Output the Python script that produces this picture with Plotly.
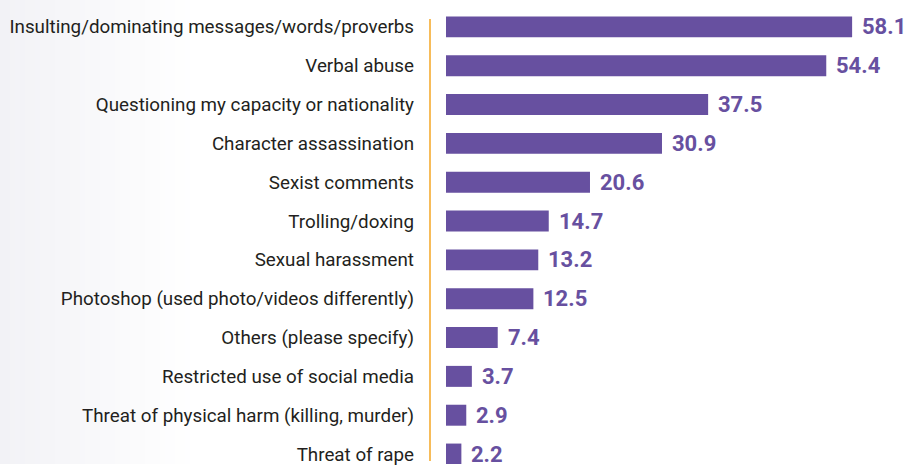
import plotly.graph_objects as go

categories = [
    "Insulting/dominating messages/words/proverbs",
    "Verbal abuse",
    "Questioning my capacity or nationality",
    "Character assassination",
    "Sexist comments",
    "Trolling/doxing",
    "Sexual harassment",
    "Photoshop (used photo/videos differently)",
    "Others (please specify)",
    "Restricted use of social media",
    "Threat of physical harm (killing, murder)",
    "Threat of rape",
]
values = [58.1, 54.4, 37.5, 30.9, 20.6, 14.7, 13.2, 12.5, 7.4, 3.7, 2.9, 2.2]

BAR_COLOR = "#6750a0"
LABEL_COLOR = "#231f20"
ACCENT = "#f5a623"

W, H = 908, 466
LEFT = 446

fig = go.Figure(
    go.Bar(
        x=values,
        y=categories,
        orientation="h",
        marker=dict(color=BAR_COLOR, line=dict(width=0)),
        width=0.54,
        hoverinfo="skip",
    )
)

# value labels to the right of each bar
for c, v in zip(categories, values):
    fig.add_annotation(
        x=v, y=c, xref="x", yref="y",
        text=f"<b>{v:.1f}</b>", showarrow=False,
        xanchor="left", yanchor="middle", xshift=8, yshift=0,
        font=dict(family="Roboto", size=22, color=BAR_COLOR),
    )

shapes = []
# soft grey fade on the left edge of the page
plot_w = W - LEFT
steps = 40
fade_px = 200
for i in range(steps):
    x0 = i * fade_px / steps
    x1 = (i + 1) * fade_px / steps
    t = i / (steps - 1)
    r = round(242 + (255 - 242) * t)
    g = round(242 + (255 - 242) * t)
    b = round(246 + (255 - 246) * t)
    shapes.append(dict(
        type="rect", xref="paper", yref="paper",
        x0=(x0 - LEFT) / plot_w, x1=(x1 - LEFT) / plot_w, y0=0, y1=1,
        fillcolor=f"rgb({r},{g},{b})", line=dict(width=0), layer="below",
    ))
# orange separator between labels and bars
shapes.append(dict(
    type="line", xref="paper", yref="paper",
    x0=(430 - LEFT) / plot_w, x1=(430 - LEFT) / plot_w,
    y0=1 - 463 / H, y1=1 - 19 / H,
    line=dict(color=ACCENT, width=1.5),
))

spacing = 39.0
top_center = 27.0
y_top = -top_center / spacing
y_bottom = y_top + H / spacing

fig.update_layout(
    width=W, height=H,
    margin=dict(l=LEFT, r=0, t=0, b=0),
    paper_bgcolor="white",
    plot_bgcolor="rgba(0,0,0,0)",
    showlegend=False,
    shapes=shapes,
    xaxis=dict(range=[0, plot_w / 6.99], visible=False, fixedrange=True),
    yaxis=dict(
        categoryorder="array", categoryarray=categories,
        range=[y_bottom, y_top],
        showgrid=False, zeroline=False, showline=False, ticks="",
        ticklabelstandoff=31,
        tickfont=dict(family="Roboto", size=18.8, color=LABEL_COLOR),
        fixedrange=True,
    ),
)

fig.write_html("out.html")
